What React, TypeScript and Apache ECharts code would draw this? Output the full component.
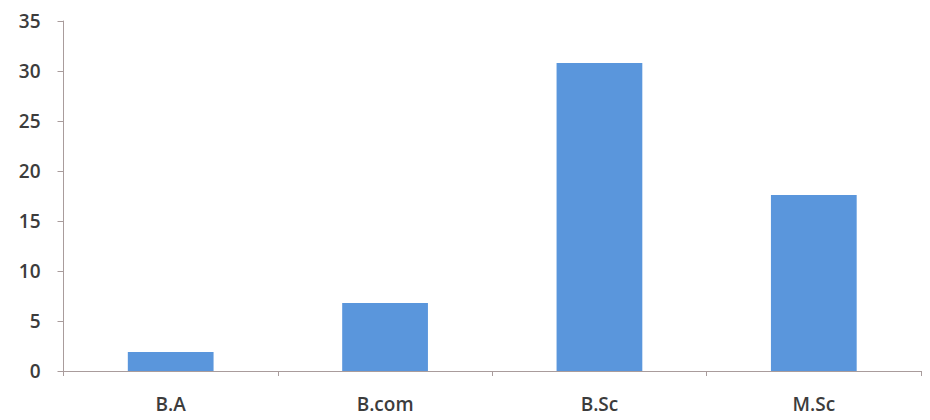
import React, { useEffect, useRef } from "react";
import * as echarts from "echarts";

const categories = ["B.A", "B.com", "B.Sc", "M.Sc"];
const values = [1.9, 6.8, 30.8, 17.6];
const yTicks = { min: 0, max: 35, interval: 5 };

export default function App() {
  const ref = useRef<HTMLDivElement>(null);
  useEffect(() => {
    if (!ref.current) return;
    const chart = echarts.init(ref.current, null, { renderer: "svg" });
    const axisColor = "#a99c9c";
    const textStyle = { color: "#3c3c3c", fontFamily: "Open Sans", fontSize: 19, fontWeight: 600 };
    chart.setOption({
      animation: false,
      backgroundColor: "#ffffff",
      grid: { left: 63.5, right: 9, top: 21, bottom: 49, containLabel: false },
      xAxis: {
        type: "category",
        data: categories,
        axisLine: { show: true, lineStyle: { color: axisColor, width: 1 } },
        axisTick: { show: true, alignWithLabel: false, length: 5, lineStyle: { color: axisColor } },
        axisLabel: { ...textStyle, margin: 23 },
        splitLine: { show: false },
      },
      yAxis: {
        type: "value",
        min: yTicks.min,
        max: yTicks.max,
        interval: yTicks.interval,
        axisLine: { show: true, lineStyle: { color: axisColor, width: 1 } },
        axisTick: { show: true, length: 6, lineStyle: { color: axisColor } },
        axisLabel: { ...textStyle, margin: 23 },
        splitLine: { show: false },
      },
      series: [
        {
          type: "bar",
          data: values,
          barWidth: "40%",
          itemStyle: { color: "#5a96dc" },
        },
      ],
    });
    return () => chart.dispose();
  }, []);
  return <div ref={ref} style={{ width: 930, height: 420, position: "absolute", left: 0, top: 0 }} />;
}
